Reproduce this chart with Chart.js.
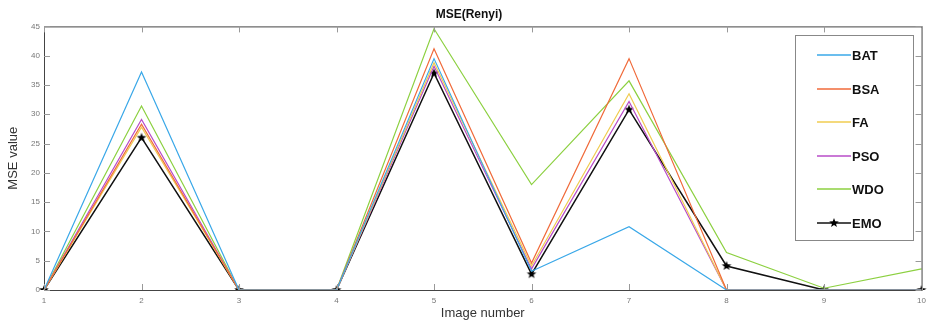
<!DOCTYPE html>
<html>
<head>
<meta charset="utf-8">
<script src="https://cdn.jsdelivr.net/npm/chart.js@4.4.1/dist/chart.umd.min.js"></script>
<style>
  html, body { margin: 0; padding: 0; background: #fff; }
  #wrap { width: 932px; height: 321px; }
</style>
</head>
<body>
<div id="wrap"><canvas id="chart1" width="932" height="321"></canvas></div>
<script>
const images = ['1', '2', '3', '4', '5', '6', '7', '8', '9', '10'];
const yTicks = [0, 5, 10, 15, 20, 25, 30, 35, 40, 45];

const bat = [0, 37.2, 0, 0, 39.5, 3.2, 10.8, 0, 0, 0];
const bsa = [0, 28.3, 0, 0, 41.2, 4.6, 39.5, 0, 0, 0];
const fa  = [0, 27.8, 0, 0, 38.8, 4.1, 33.5, 0, 0, 0];
const pso = [0, 29.1, 0, 0, 38.2, 3.6, 32.2, 0, 0, 0];
const wdo = [0, 31.4, 0, 0, 44.6, 18.0, 35.7, 6.4, 0.3, 3.6];
const emo = [0, 26.0, 0, 0, 37.0, 2.7, 30.8, 4.1, 0, 0];

// pentagram marker like matlab
function makeStar(r) {
	const c = document.createElement('canvas');
	c.width = c.height = r * 2 + 2;
	const g = c.getContext('2d');
	g.translate(r + 1, r + 1);
	g.beginPath();
	for (let i = 0; i < 10; i++) {
		const rr = i % 2 === 0 ? r : r * 0.42;
		const a = -Math.PI / 2 + i * Math.PI / 5;
		g.lineTo(rr * Math.cos(a), rr * Math.sin(a));
	}
	g.closePath();
	g.fillStyle = '#000';
	g.fill();
	return c;
}
const star = makeStar(5);

// box + inward ticks + legend
const matlabFrame = {
	id: 'matlabFrame',
	afterDatasetsDraw(chart) {
		const { ctx, chartArea: a, scales } = chart;
		ctx.save();
		ctx.strokeStyle = '#444';
		ctx.lineWidth = 1;
		ctx.strokeRect(a.left + 0.5, a.top + 0.5, a.right - a.left, a.bottom - a.top);
		ctx.strokeStyle = '#999';
		ctx.beginPath();
		images.forEach((lab, i) => {
			const x = Math.round(scales.x.getPixelForValue(i)) + 0.5;
			ctx.moveTo(x, a.bottom); ctx.lineTo(x, a.bottom - 6);
			ctx.moveTo(x, a.top); ctx.lineTo(x, a.top + 6);
		});
		yTicks.forEach(v => {
			const y = Math.round(scales.y.getPixelForValue(v)) + 0.5;
			ctx.moveTo(a.left, y); ctx.lineTo(a.left + 6, y);
			ctx.moveTo(a.right, y); ctx.lineTo(a.right - 6, y);
		});
		ctx.stroke();

		// legend box
		const lx = 795, ly = 35, lw = 118, lh = 205;
		ctx.fillStyle = '#fff';
		ctx.fillRect(lx, ly, lw, lh);
		ctx.strokeStyle = '#888';
		ctx.lineWidth = 1;
		ctx.strokeRect(lx + 0.5, ly + 0.5, lw, lh);
		ctx.font = 'bold 13px Arial, "Liberation Sans", sans-serif';
		ctx.textBaseline = 'middle';
		chart.data.datasets.forEach((ds, i) => {
			const y = Math.round(55 + i * 33.5);
			ctx.strokeStyle = ds.borderColor;
			ctx.lineWidth = 1.6;
			ctx.beginPath();
			ctx.moveTo(817, y); ctx.lineTo(851, y);
			ctx.stroke();
			if (ds.pointStyle === star) ctx.drawImage(star, 834 - 6, y - 6);
			ctx.fillStyle = '#111';
			ctx.fillText(ds.label, 852, y + 1);
		});
		ctx.restore();
	}
};

const ds = {
	labels: images,
	datasets: [
		{ label: 'BAT', data: bat, borderColor: '#3aa8e8', borderWidth: 1.2, pointRadius: 0 },
		{ label: 'BSA', data: bsa, borderColor: '#f06a3a', borderWidth: 1.2, pointRadius: 0 },
		{ label: 'FA', data: fa, borderColor: '#f0cc50', borderWidth: 1.2, pointRadius: 0 },
		{ label: 'PSO', data: pso, borderColor: '#b84cc8', borderWidth: 1.2, pointRadius: 0 },
		{ label: 'WDO', data: wdo, borderColor: '#8cd040', borderWidth: 1.2, pointRadius: 0 },
		{ label: 'EMO', data: emo, borderColor: '#111', borderWidth: 1.5, pointStyle: star, pointRadius: 5 }
	]
};

const options = {
	responsive: false,
	animation: false,
	layout: { padding: { right: 0, left: 6, bottom: 0, top: 0 } },
	plugins: {
		legend: { display: false },
		tooltip: { enabled: false },
		title: {
			display: true,
			text: 'MSE(Renyi)',
			color: '#111',
			font: { family: 'Arial, "Liberation Sans", sans-serif', size: 12, weight: 'bold' },
			padding: { top: 7, bottom: 5 }
		}
	},
	scales: {
		x: {
			type: 'category',
			offset: false,
			grid: { display: false, drawTicks: false },
			border: { display: true, color: '#444' },
			ticks: { color: '#777', font: { family: 'Arial, sans-serif', size: 8 }, padding: 6, maxRotation: 0 },
			title: { display: true, text: 'Image number', color: '#333', font: { family: 'Arial, "Liberation Sans", sans-serif', size: 13 }, padding: { top: 0, bottom: 0 } },
			afterFit(s) { s.height = 31; }
		},
		y: {
			min: 0,
			max: 45,
			grid: { display: false, drawTicks: false },
			border: { display: true, color: '#444' },
			ticks: { stepSize: 5, color: '#777', font: { family: 'Arial, sans-serif', size: 8 }, padding: 4 },
			title: { display: true, text: 'MSE value', color: '#333', font: { family: 'Arial, "Liberation Sans", sans-serif', size: 13 }, padding: { top: 0, bottom: 4 } },
			afterFit(s) { s.width = 38; }
		}
	}
};

const ctx1 = document.getElementById('chart1').getContext('2d');
const myChart = new Chart(ctx1, {
	type: 'line',
	data: ds,
	options: options,
	plugins: [matlabFrame]
});
</script>
</body>
</html>
